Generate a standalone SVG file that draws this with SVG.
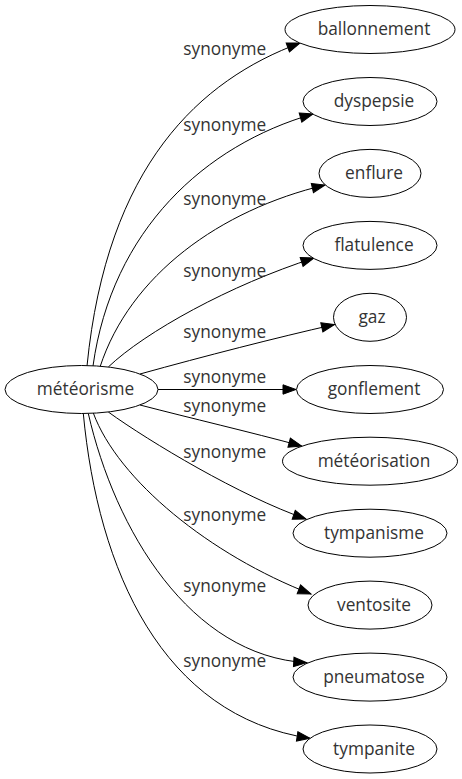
<svg xmlns="http://www.w3.org/2000/svg" width="462" height="779" viewBox="0 0 462 779">
<defs>
<marker id="arr" markerUnits="userSpaceOnUse" markerWidth="14" markerHeight="10" refX="13" refY="4.7" orient="auto" overflow="visible">
<path d="M0,0 L13,4.7 L0,9.4 z" fill="#000" stroke="#000" stroke-width="1"/>
</marker>
</defs>
<style>
.node ellipse{fill:#fff;stroke:#000;stroke-width:1}
.node text{font-family:"Open Sans","Noto Sans","DejaVu Sans",sans-serif;font-size:17.3px;fill:#333;text-anchor:middle}
.lbl{font-family:"Open Sans","Noto Sans","DejaVu Sans",sans-serif;font-size:17.3px;fill:#333;text-anchor:middle}
.edges path{fill:none;stroke:#000;stroke-width:1;marker-end:url(#arr)}
</style>
<rect width="462" height="779" fill="#fff"/>
<g id="edges" class="edges">
<path d="M87,366 C107,165 200,80 300,43"/>
<path d="M93,366 C112,230 205,145 313,114"/>
<path d="M100,367 C130,275 220,210 325,185"/>
<path d="M108.3,367 C145,332 230,285 314,258"/>
<path d="M140,374 C205,356 275,338 334.5,324.5"/>
<path d="M158,389.5 L296,389.5"/>
<path d="M140,405 C190,418 250,432 301.7,446"/>
<path d="M108.3,412 C150,442 240,496 306,519"/>
<path d="M93.3,413 C118,480 210,555 311,594"/>
<path d="M88.3,413.5 C115,530 190,656 306.7,662.7"/>
<path d="M83.3,413.5 C98,570 162,716 310,738.3"/>
</g>
<g id="labels">
<text class="lbl" x="224.7" y="55">synonyme</text>
<text class="lbl" x="224.7" y="131">synonyme</text>
<text class="lbl" x="224.7" y="205">synonyme</text>
<text class="lbl" x="224.7" y="276.7">synonyme</text>
<text class="lbl" x="224.7" y="338.3">synonyme</text>
<text class="lbl" x="224.7" y="383.3">synonyme</text>
<text class="lbl" x="224.7" y="411.7">synonyme</text>
<text class="lbl" x="224.7" y="458.3">synonyme</text>
<text class="lbl" x="224.7" y="521">synonyme</text>
<text class="lbl" x="224.7" y="592.3">synonyme</text>
<text class="lbl" x="224.7" y="667.3">synonyme</text>
</g>
<g id="n-meteorisme" class="node"><ellipse cx="81.5" cy="389.5" rx="76.5" ry="24"/><text x="85.5" y="395">météorisme</text></g>
<g id="n-ballonnement" class="node"><ellipse cx="370" cy="29.5" rx="85" ry="24"/><text x="374" y="35">ballonnement</text></g>
<g id="n-dyspepsie" class="node"><ellipse cx="370" cy="101.5" rx="67" ry="24"/><text x="374" y="107">dyspepsie</text></g>
<g id="n-enflure" class="node"><ellipse cx="370" cy="173.4" rx="51" ry="24"/><text x="374" y="178.9">enflure</text></g>
<g id="n-flatulence" class="node"><ellipse cx="370" cy="245.4" rx="67" ry="24"/><text x="374" y="250.9">flatulence</text></g>
<g id="n-gaz" class="node"><ellipse cx="370" cy="317.3" rx="36.5" ry="24"/><text x="372" y="322.8">gaz</text></g>
<g id="n-gonflement" class="node"><ellipse cx="370" cy="389.5" rx="73.5" ry="24"/><text x="374" y="395">gonflement</text></g>
<g id="n-meteorisation" class="node"><ellipse cx="370" cy="461.2" rx="87.5" ry="24"/><text x="374" y="466.7">météorisation</text></g>
<g id="n-tympanisme" class="node"><ellipse cx="370" cy="533.2" rx="77" ry="24"/><text x="374" y="538.7">tympanisme</text></g>
<g id="n-ventosite" class="node"><ellipse cx="370" cy="605.1" rx="62" ry="24"/><text x="374" y="610.6">ventosite</text></g>
<g id="n-pneumatose" class="node"><ellipse cx="370" cy="677.1" rx="77" ry="24"/><text x="374" y="682.6">pneumatose</text></g>
<g id="n-tympanite" class="node"><ellipse cx="370" cy="749" rx="67" ry="24"/><text x="374" y="754.5">tympanite</text></g>
</svg>
